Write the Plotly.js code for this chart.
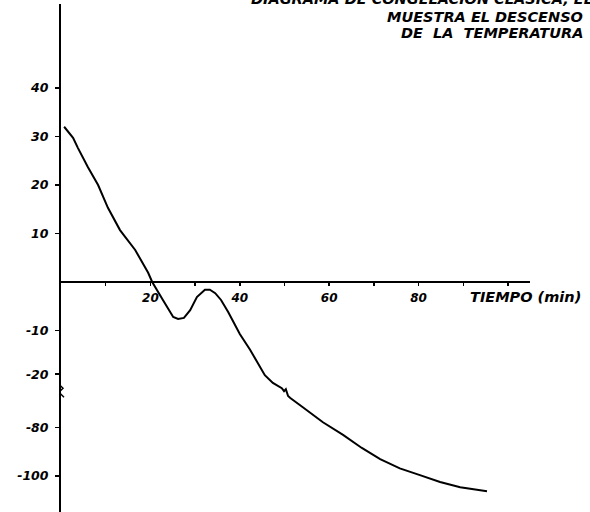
<!DOCTYPE html>
<html><head><meta charset="utf-8">
<script src="https://cdn.plot.ly/plotly-3.0.1.min.js"></script>
<style>html,body{margin:0;padding:0;background:#fff}#chart{width:590px;height:512px}</style>
</head><body><div id="chart"></div>
<script>
// Data: time (min) and temperature (°C)
const timeMin = [0.7, 1.3, 2.7, 3.8, 6.0, 8.3, 10.5, 13.2, 16.6, 19.5, 20.4, 22.8, 25.1, 26.2, 27.5, 28.9, 30.4, 32.2, 33.3, 34.5, 35.8, 37.4, 38.9, 40.0, 42.3, 44.5, 45.6, 47.4, 49.4, 49.9, 50.3, 50.8, 51.3, 54.1, 58.6, 63.1, 67.3, 71.4, 75.8, 80.3, 84.8, 89.3, 93.7, 95.3];
const tempC   = [32.0, 31.3, 29.7, 27.6, 23.7, 20.0, 15.3, 10.7, 6.6, 1.9, 0, -3.7, -7.2, -7.6, -7.4, -5.8, -3.1, -1.6, -1.6, -2.3, -3.7, -6.2, -8.9, -10.8, -14.4, -18.3, -21.1, -29.8, -35.8, -39.1, -36.9, -44.5, -46.7, -57.1, -74, -83, -88.4, -93, -96.8, -99.6, -102.4, -104.6, -105.8, -106.2];

const xTickVals = [10, 20, 30, 40, 50, 60, 70, 80, 90, 100];
const xTickText = ['', '20', '', '40', '', '60', '', '80', '', ''];
const yTickVals = [40, 30, 20, 10, -10, -20, -80, -100];
const yTickText = ['40', '30', '20', '10', '-10', '-20', '-80', '-100'];

const titleLines = ['MUESTRA EL DESCENSO', 'DE  LA  TEMPERATURA'];
const topLine = 'DIAGRAMA DE CONGELACION CLASICA, EL';
const xLabel = 'TIEMPO (min)';

// Broken temperature axis: piecewise-linear scale
const scaleTemp = [80, -10, -20, -80, -160];
const scalePos  = [80, -10, -19, -30, -70];
function toAxis(v) {
  for (let i = 0; i < scaleTemp.length - 1; i++) {
    const a = scaleTemp[i], b = scaleTemp[i + 1];
    if (v <= a && v >= b) {
      return scalePos[i] + (v - a) * (scalePos[i + 1] - scalePos[i]) / (b - a);
    }
  }
  return v;
}

const yRange = [-47.4, 57.3];
const xMax = 104.9;
const plotW = 590 - 61, plotH = 512 - 4;
const xDomEnd = (xMax * 4.47) / plotW;
const zeroPos = (0 - yRange[0]) / (yRange[1] - yRange[0]);

const font = {family: 'DejaVu Sans', size: 12, color: '#000', weight: 'bold', style: 'italic'};
const bigFont = Object.assign({}, font, {size: 14.5});

const trace = {
  x: timeMin,
  y: tempC.map(toAxis),
  mode: 'lines',
  line: {color: '#000', width: 2},
  hoverinfo: 'skip'
};

const layout = {
  width: 590, height: 512,
  margin: {l: 61, r: 0, t: 4, b: 0},
  paper_bgcolor: '#fff', plot_bgcolor: '#fff',
  showlegend: false,
  xaxis: {
    domain: [0, xDomEnd], range: [0, xMax],
    anchor: 'free', position: zeroPos,
    showline: true, linecolor: '#000', linewidth: 2,
    showgrid: false, zeroline: false,
    tickmode: 'array', tickvals: xTickVals, ticktext: xTickText,
    ticks: 'outside', ticklen: 3, tickwidth: 1.5, tickcolor: '#000',
    tickfont: font, ticklabelstandoff: 2
  },
  yaxis: {
    range: yRange,
    showline: true, linecolor: '#000', linewidth: 2,
    showgrid: false, zeroline: false,
    tickmode: 'array', tickvals: yTickVals.map(toAxis), ticktext: yTickText,
    ticks: 'outside', ticklen: 4, tickwidth: 1.5, tickcolor: '#000',
    tickfont: Object.assign({}, font, {size: 12.5}), ticklabelstandoff: 4
  },
  annotations: [
    {text: topLine, xref: 'paper', yref: 'paper', x: 1.01, y: (512 + 1) / plotH,
     xanchor: 'right', yanchor: 'middle', showarrow: false, font: bigFont},
    {text: titleLines[0], xref: 'paper', yref: 'paper', x: (585 - 61) / plotW, y: (512 - 17) / plotH,
     xanchor: 'right', yanchor: 'middle', showarrow: false, font: bigFont},
    {text: titleLines[1], xref: 'paper', yref: 'paper', x: (585 - 61) / plotW, y: (512 - 33) / plotH,
     xanchor: 'right', yanchor: 'middle', showarrow: false, font: bigFont},
    {text: xLabel, xref: 'paper', yref: 'paper', x: (468 - 61) / plotW, y: (512 - 297) / plotH,
     xanchor: 'left', yanchor: 'middle', showarrow: false, font: bigFont}
  ],
  shapes: [
    {type: 'path', xref: 'x', yref: 'y', xsizemode: 'pixel', ysizemode: 'pixel',
     xanchor: 0, yanchor: toAxis(-38),
     path: 'M 3 -7 L -2 -2 L 2 2 L -3 7',
     line: {color: '#000', width: 1.5}}
  ]
};

Plotly.newPlot('chart', [trace], layout, {displayModeBar: false, staticPlot: true});
</script>
</body></html>
